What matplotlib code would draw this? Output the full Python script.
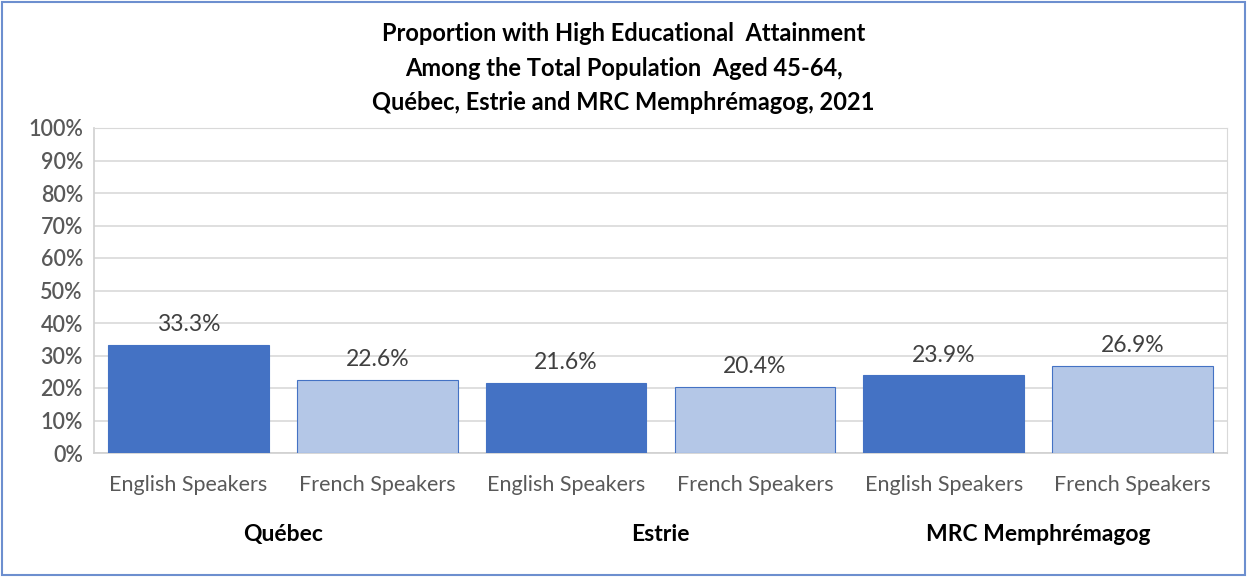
import matplotlib.pyplot as plt
from matplotlib.patches import Rectangle

# data
regions = ['Québec', 'Estrie', 'MRC Memphrémagog']
speakers = ['English Speakers', 'French Speakers']
values = [33.3, 22.6, 21.6, 20.4, 23.9, 26.9]
colors = ['#4472C4', '#B4C7E7'] * 3
yticks = list(range(0, 101, 10))

plt.rcParams['font.family'] = ['Lato', 'DejaVu Sans']

fig = plt.figure(figsize=(12.47, 5.77), dpi=100)
ax = fig.add_axes([94 / 1247, 1 - 453 / 577, (1227 - 94) / 1247, (453 - 128) / 577])

x = list(range(len(values)))
ax.bar(x, values, width=0.85, color=colors, edgecolor='#4472C4', linewidth=0.8, zorder=3)

for xi, v in zip(x, values):
    ax.text(xi, v + 3, f'{v:.1f}%', ha='center', va='bottom', fontsize=16.5, color='#404040')

ax.set_xlim(-0.5, len(values) - 0.5)
ax.set_ylim(0, 100)
ax.set_yticks(yticks)
ax.set_yticklabels([f'{t}%' for t in yticks], fontsize=15.5, color='#595959', fontweight='semibold')
ax.set_xticks(x)
ax.set_xticklabels(speakers * 3, fontsize=15.5, color='#595959')
ax.tick_params(length=0, pad=8)
ax.tick_params(axis='x', pad=16)
ax.grid(axis='y', color='#D9D9D9', linewidth=1.2, zorder=0)
for s in ['top', 'right']:
    ax.spines[s].set_color('#D9D9D9')
for s in ['left', 'bottom']:
    ax.spines[s].set_color('#D0D0D0')
    ax.spines[s].set_linewidth(1.2)

# group labels
for i, r in enumerate(regions):
    ax.text(2 * i + 0.5, -25, r, ha='center', va='center', fontsize=16.5,
            fontweight='bold', color='black')

fig.text(0.5, 1 - 68 / 577,
         'Proportion with High Educational  Attainment\nAmong the Total Population  Aged 45-64,\nQuébec, Estrie and MRC Memphrémagog, 2021',
         ha='center', va='center', fontsize=17, fontweight='bold', linespacing=1.6)

fig.patches.append(Rectangle((2 / 1247, 2 / 577), 1 - 4 / 1247, 1 - 4 / 577,
                             transform=fig.transFigure, fill=False, edgecolor='#6D8FCF', linewidth=1.5))

fig.savefig('out.png', dpi=100)
